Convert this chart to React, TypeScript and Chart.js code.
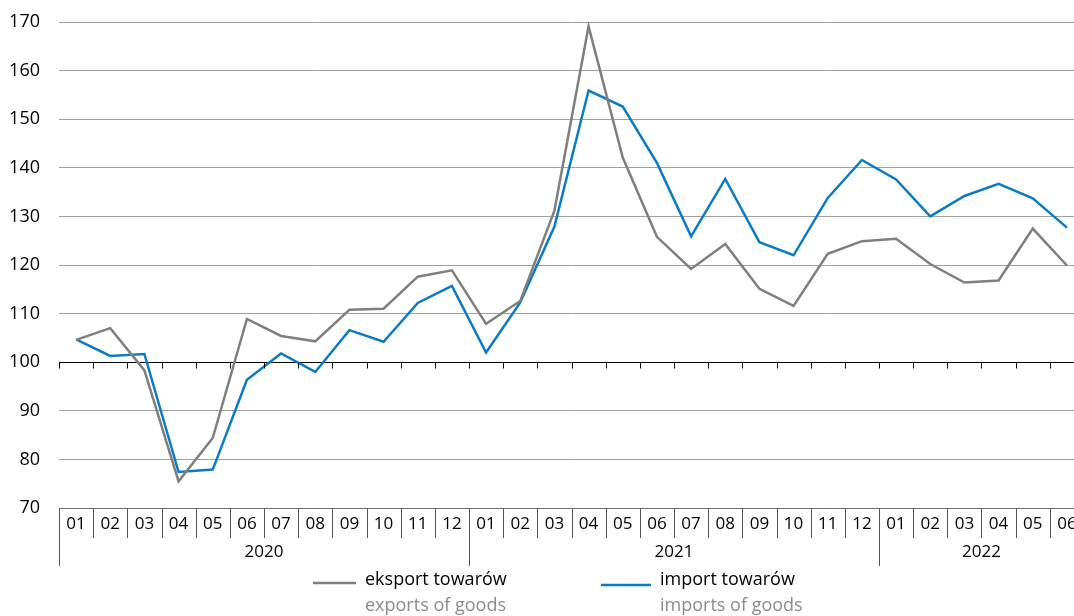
import React, { useEffect, useRef } from "react";
import { Chart, registerables } from "chart.js";

Chart.register(...registerables);

const MONTH_LABELS = [
  "01", "02", "03", "04", "05", "06", "07", "08", "09", "10", "11", "12",
  "01", "02", "03", "04", "05", "06", "07", "08", "09", "10", "11", "12",
  "01", "02", "03", "04", "05", "06",
];
const YEARS = ["2020", "2021", "2022"];
const YEAR_SPANS = [12, 12, 6];

const EXPORTS = [
  104.6, 107.0, 98.3, 75.5, 84.4, 108.9, 105.4, 104.3, 110.8, 111.0, 117.6, 118.9,
  107.9, 112.6, 131.2, 169.1, 142.1, 125.8, 119.2, 124.3, 115.1, 111.6, 122.3, 124.9,
  125.4, 120.2, 116.4, 116.8, 127.5, 119.9,
];
const IMPORTS = [
  104.7, 101.3, 101.7, 77.4, 77.9, 96.4, 101.8, 98.0, 106.6, 104.2, 112.2, 115.7,
  102.0, 112.3, 127.9, 155.9, 152.6, 141.0, 125.9, 137.7, 124.7, 122.0, 133.8, 141.6,
  137.6, 130.0, 134.2, 136.7, 133.7, 127.7,
];

const LEGEND_PL = ["eksport towarów", "import towarów"];
const LEGEND_EN = ["exports of goods", "imports of goods"];

const Y_MIN = 70;
const Y_MAX = 170;
const Y_STEP = 10;

const FONT = "'Open Sans', 'Noto Sans', sans-serif";
const GRAY = "#7f7f7f";
const BLUE = "#0a7bc8";

const customAxis = {
  id: "customAxis",
  afterDraw(chart: any) {
    const { ctx, chartArea, scales } = chart;
    const xs = scales.x;
    const ys = scales.y;
    const left = chartArea.left;
    const right = chartArea.right;
    const bottom = chartArea.bottom;
    const n = MONTH_LABELS.length;
    const w = (right - left) / n;
    ctx.save();

    // tick marks on the 100 line
    const y100 = Math.round(ys.getPixelForValue(100)) + 0.5;
    ctx.strokeStyle = "#000";
    ctx.lineWidth = 1;
    ctx.beginPath();
    for (let i = 0; i <= n; i++) {
      const xx = Math.round(left + i * w) + 0.5;
      ctx.moveTo(xx, y100);
      ctx.lineTo(xx, y100 + 6);
    }
    ctx.stroke();

    // separators under axis
    const yearStarts = new Set<number>();
    let acc = 0;
    yearStarts.add(0);
    YEAR_SPANS.forEach((s) => {
      acc += s;
      yearStarts.add(acc);
    });
    ctx.strokeStyle = "#555";
    ctx.beginPath();
    for (let i = 0; i <= n; i++) {
      const xx = Math.round(left + i * w) + 0.5;
      ctx.moveTo(xx, bottom);
      ctx.lineTo(xx, yearStarts.has(i) ? bottom + 58 : bottom + 30);
    }
    ctx.stroke();

    // month labels
    ctx.fillStyle = "#000";
    ctx.font = `17px ${FONT}`;
    ctx.textAlign = "center";
    ctx.textBaseline = "middle";
    for (let i = 0; i < n; i++) {
      ctx.fillText(MONTH_LABELS[i], xs.getPixelForValue(i), bottom + 16);
    }
    // year labels
    let start = 0;
    YEARS.forEach((yr, k) => {
      const span = YEAR_SPANS[k];
      const cx = left + (start + span / 2) * w;
      ctx.fillText(yr, cx, bottom + 44);
      start += span;
    });

    // legend
    const items = [
      { color: GRAY, x0: 313, x1: 356, ly: 583, tx: 365 },
      { color: BLUE, x0: 601, x1: 651, ly: 585, tx: 660 },
    ];
    items.forEach((it, k) => {
      ctx.strokeStyle = it.color;
      ctx.lineWidth = 2.5;
      ctx.beginPath();
      ctx.moveTo(it.x0, it.ly);
      ctx.lineTo(it.x1, it.ly);
      ctx.stroke();
      ctx.textAlign = "left";
      ctx.font = `18px ${FONT}`;
      ctx.fillStyle = "#000";
      ctx.fillText(LEGEND_PL[k], it.tx, 580);
      ctx.fillStyle = "#8c8c8c";
      ctx.fillText(LEGEND_EN[k], it.tx, 606);
    });
    ctx.restore();
  },
};

export default function App() {
  const ref = useRef<HTMLCanvasElement | null>(null);
  useEffect(() => {
    if (!ref.current) return;
    const chart = new Chart(ref.current, {
      type: "line",
      data: {
        labels: MONTH_LABELS,
        datasets: [
          {
            label: LEGEND_PL[0],
            data: EXPORTS,
            borderColor: GRAY,
            borderWidth: 2.5,
            pointRadius: 0,
            tension: 0,
            fill: false,
          },
          {
            label: LEGEND_PL[1],
            data: IMPORTS,
            borderColor: BLUE,
            borderWidth: 2.5,
            pointRadius: 0,
            tension: 0,
            fill: false,
          },
        ],
      },
      options: {
        responsive: false,
        animation: false,
        layout: { padding: { top: 22, bottom: 108, left: 0, right: 6 } },
        plugins: { legend: { display: false }, tooltip: { enabled: false } },
        scales: {
          x: { type: "category", display: false, offset: true },
          y: {
            min: Y_MIN,
            max: Y_MAX,
            afterFit: (s: any) => {
              s.width = 59;
              s.paddingTop = 0;
              s.paddingBottom = 0;
            },
            ticks: {
              stepSize: Y_STEP,
              color: "#000",
              padding: 19,
              font: { family: FONT, size: 18 },
            },
            border: { display: false },
            grid: {
              drawTicks: false,
              lineWidth: 1,
              color: (c: any) =>
                c.tick && c.tick.value === 100
                  ? "#000"
                  : c.tick && c.tick.value === 70
                  ? "#6e6e6e"
                  : "#a0a0a0",
            },
          },
        },
      },
      plugins: [customAxis],
    });
    return () => chart.destroy();
  }, []);
  return (
    <div
      style={{
        position: "fixed",
        left: 0,
        top: 0,
        width: 1074,
        height: 616,
        overflow: "hidden",
        background: "#fff",
      }}
    >
      <canvas ref={ref} width={1090} height={616} style={{ display: "block" }} />
    </div>
  );
}
